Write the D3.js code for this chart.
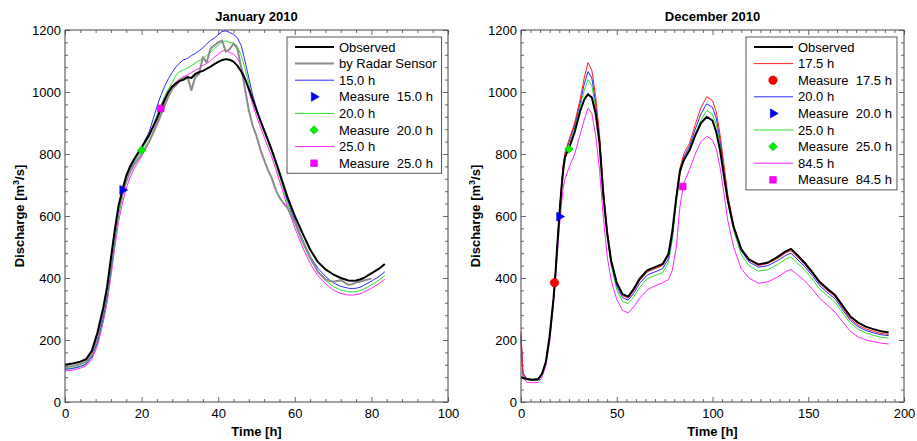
<!DOCTYPE html>
<html><head><meta charset="utf-8">
<script src="https://cdn.jsdelivr.net/npm/d3@7"></script>
<style>
body{margin:0;background:#fff;}
svg text{font-family:"Liberation Sans",Arial,Helvetica,sans-serif;fill:#000;}
</style></head><body>
<svg id="c" width="917" height="441"></svg>
<script>
// ---------------- January 2010 ----------------
const janTime = [0,2,4,5.5,7, 8.5,10,11,12,13, 14,15,16,17,18, 20,22,24,25,26, 27,28,29,30,31, 32,33,34,35,36, 37,38,39,40,41, 42,43,44,45,46, 47,48,49,50,51, 52,53,54,55,56, 57,58,60,62,64, 66,68,70,72,74, 75,76,77,78,80, 82,83.5];
const janObserved = [120,124,130,138,165, 225,305,372,465,555, 635,685,730,760,782, 822,862,915,945,975, 1000,1018,1028,1036,1040, 1048,1045,1058,1064,1068, 1075,1082,1090,1097,1103, 1106,1104,1098,1085,1066, 1042,1010,976,942,908, 876,845,812,776,740, 702,664,600,545,492, 452,428,412,400,392, 391,392,395,400,415, 430,445];
const janRadar = [112,116,122,130,152, 210,292,358,450,542, 620,670,712,742,765, 800,840,895,925,955, 985,1010,1022,1040,1046, 1048,1006,1048,1058,1112, 1095,1140,1150,1160,1166, 1130,1138,1156,1140,1080, 1010,940,892,858,815, 780,748,722,685,660, 642,628,580,520,468, 420,395,388,393,378, 380,386,388,392,398, null,null];
const jan15 = [105,108,114,122,145, 195,275,340,430,525, 618,682,722,752,778, 822,872,952,988,1018, 1043,1063,1082,1094,1104, 1108,1118,1124,1133,1143, 1155,1166,1174,1185,1195, 1197,1192,1186,1175,1150, 1100,1045,990,948,910, 878,847,815,778,738, 698,655,586,525,470, 432,405,385,373,367, 366,367,370,376,390, 405,420];
const jan20 = [108,110,116,124,146, 192,270,333,420,515, 600,662,710,745,772, 812,855,925,958,985, 1010,1030,1055,1066,1071, 1077,1085,1094,1101,1108, 1118,1128,1140,1150,1162, 1165,1160,1158,1148,1118, 1075,1025,978,938,902, 870,838,805,768,728, 688,645,576,514,460, 421,393,373,361,356, 355,356,359,364,378, 393,408];
const jan25 = [100,103,109,117,138, 182,258,320,405,498, 582,642,690,725,752, 792,838,905,942,968, 992,1012,1033,1042,1050, 1055,1062,1070,1076,1085, 1092,1101,1112,1122,1132, 1135,1128,1122,1110,1082, 1045,1002,960,922,888, 855,822,790,752,713, 674,632,562,500,447, 408,382,361,350,345, 345,346,349,354,367, 382,396];
const janMeasureTime = [15, 20, 25];
const janMeasureQ = [684, 812, 947];
const janXTicks = [0,20,40,60,80,100];

// ---------------- December 2010 ----------------
const decTime = [0,1,3,6,9, 11,13,15,17,18, 19,20,21,22,23, 25,28,31,33,35, 37,39,41,43,45, 47,50,53,56,59, 62,66,70,74,77, 79,81,83,85,88, 91,94,97,100,102, 104,106,108,111,115, 119,124,129,134,138, 141,144,148,152,156, 160,164,168,172,176, 180,184,188,192];
const decObserved = [80,78,74,72,74, 92,130,215,335,415, 510,598,680,745,790, 818,870,940,975,993, 982,930,835,665,545, 458,385,348,340,366, 398,425,435,445,478, 550,655,745,780,812, 860,900,920,908,870, 810,728,650,565,493, 460,444,450,468,485, 494,476,450,420,387, 365,345,310,276,256, 243,235,228,224];
const dec175 = [225,95,75,72,72, 90,128,210,335,420, 515,605,690,765,805, 845,900,980,1045,1095, 1070,985,865,690,555, 460,382,343,335,360, 392,420,430,440,472, 545,660,755,800,835, 895,950,985,972,935, 860,765,668,572,495, 458,440,447,463,480, 488,470,445,415,382, 360,340,303,268,248, 236,228,221,218];
const dec20 = [215,92,74,71,71, 89,127,210,333,415, 512,600,688,760,800, 838,893,968,1025,1066, 1045,965,850,680,545, 452,373,336,329,352, 383,410,420,430,462, 535,650,745,790,825, 880,930,962,950,915, 845,752,658,565,488, 452,435,440,456,472, 480,462,438,408,375, 353,333,297,263,243, 231,223,217,214];
const dec25 = [205,88,72,69,69, 87,125,205,328,410, 505,595,680,752,793, 820,883,955,1005,1040, 1020,948,838,670,535, 442,362,325,317,340, 370,398,408,418,450, 522,638,735,780,815, 865,910,940,928,895, 828,738,645,553,476, 440,422,427,443,460, 468,450,427,397,364, 343,322,287,254,235, 223,215,209,206];
const dec845 = [195,80,64,62,63, 80,118,195,318,395, 480,560,630,690,720, 755,800,865,910,948, 930,860,750,595,470, 395,330,296,287,308, 335,362,375,385,395, 425,495,630,705,750, 800,840,857,845,815, 755,672,585,500,430, 400,383,388,403,420, 428,412,392,365,334, 312,290,258,228,210, 200,195,190,187];
const decMeasureTime = [17.5, 20, 25, 84.5];
const decMeasureQ = [385, 598, 816, 695];
const decXTicks = [0,50,100,150,200];

const yTicks = [0,200,400,600,800,1000,1200];

// ---------------- drawing ----------------
const svg = d3.select("#c");
const FONT = "'Liberation Sans', Arial, Helvetica, sans-serif";
const C = {black:"#000000", gray:"#8c8c8c", blue:"#2a2aff", green:"#2ee02e", magenta:"#ff22ff", red:"#ff2020"};
const M = {blue:"#0000ff", green:"#00f000", magenta:"#ff00ff", red:"#ff0000"};

function markerPath(shape) {
  if (shape === "tri") return d3.symbol(d3.symbolTriangle, 36)();
  if (shape === "diamond") return d3.symbol(d3.symbolSquare, 36)();
  if (shape === "square") return d3.symbol(d3.symbolSquare, 44)();
  return d3.symbol(d3.symbolCircle, 56)();
}
function markerRot(shape) {
  if (shape === "tri") return 90;
  if (shape === "diamond") return 45;
  return 0;
}
function drawMarker(g, shape, color, x, y) {
  g.append("path").attr("d", markerPath(shape))
    .attr("transform", `translate(${x},${y}) rotate(${markerRot(shape)})`)
    .attr("fill", color).attr("stroke", d3.color(color).darker(0.6)).attr("stroke-width", 0.6);
}

function panel(o) {
  const W = o.right - o.left, H = o.bottom - o.top;
  const g = svg.append("g").attr("transform", `translate(${o.left},${o.top})`);
  const x = d3.scaleLinear().domain(o.xDomain).range([0, W]);
  const y = d3.scaleLinear().domain([0, 1200]).range([H, 0]);
  const xMinor = d3.range(o.xDomain[0], o.xDomain[1] + 0.001, o.xMinorStep).filter(v => !o.xTicks.includes(v));
  const yMinor = d3.range(0, 1200.001, 40).filter(v => !yTicks.includes(v));

  const styleAxis = sel => {
    sel.select(".domain").remove();
    sel.selectAll("line").attr("stroke", "#444").attr("stroke-width", 0.8);
    sel.selectAll("text").attr("font-family", FONT).attr("font-size", 13).attr("fill", "#000");
  };
  g.append("g").attr("transform", `translate(0,${H})`)
    .call(d3.axisBottom(x).tickValues(o.xTicks).tickSize(-5).tickPadding(7).tickFormat(d3.format("d"))).call(styleAxis);
  g.append("g")
    .call(d3.axisLeft(y).tickValues(yTicks).tickSize(-5).tickPadding(4).tickFormat(d3.format("d"))).call(styleAxis);
  g.append("g").call(d3.axisTop(x).tickValues(o.xTicks).tickSize(-5).tickFormat("")).call(styleAxis);
  g.append("g").attr("transform", `translate(${W},0)`)
    .call(d3.axisRight(y).tickValues(yTicks).tickSize(-5).tickFormat("")).call(styleAxis);
  g.append("g").attr("transform", `translate(0,${H})`).call(d3.axisBottom(x).tickValues(xMinor).tickSize(-3).tickFormat("")).call(styleAxis);
  g.append("g").call(d3.axisTop(x).tickValues(xMinor).tickSize(-3).tickFormat("")).call(styleAxis);
  g.append("g").call(d3.axisLeft(y).tickValues(yMinor).tickSize(-3).tickFormat("")).call(styleAxis);
  g.append("g").attr("transform", `translate(${W},0)`).call(d3.axisRight(y).tickValues(yMinor).tickSize(-3).tickFormat("")).call(styleAxis);

  const line = vals => d3.line().defined((d, i) => vals[i] != null)
      .x((d, i) => x(o.time[i])).y((d, i) => y(vals[i]))(o.time);
  o.series.slice().reverse().forEach(s => {
    g.append("path").attr("d", line(s.values)).attr("fill", "none")
      .attr("stroke", s.color).attr("stroke-width", s.width).attr("stroke-linejoin", "round");
  });
  o.measures.forEach(m => drawMarker(g, m.shape, m.color, x(m.t), y(m.q)));

  g.append("rect").attr("x", 0).attr("y", 0).attr("width", W).attr("height", H)
    .attr("fill", "none").attr("stroke", "#444").attr("stroke-width", 1);

  svg.append("text").attr("x", o.left + W / 2).attr("y", 21).attr("text-anchor", "middle")
    .attr("font-weight", "bold").attr("font-size", 13).attr("font-family", FONT).text(o.title);
  svg.append("text").attr("x", o.left + W / 2).attr("y", 436).attr("text-anchor", "middle")
    .attr("font-weight", "bold").attr("font-size", 13).attr("font-family", FONT).text("Time [h]");
  const yl = svg.append("text").attr("transform", `translate(${o.ylabelX},${o.top + H / 2}) rotate(-90)`)
    .attr("text-anchor", "middle").attr("font-weight", "bold").attr("font-size", 13).attr("font-family", FONT);
  yl.append("tspan").text("Discharge [m");
  yl.append("tspan").attr("dy", -5).attr("font-size", 9).text("3");
  yl.append("tspan").attr("dy", 5).text("/s]");

  const lg = g.append("g");
  const rowH = 16.6, top0 = 7;
  const bg = lg.append("rect");
  let maxW = 0;
  const lx = o.legendLeft - o.left;
  o.legend.forEach((e, i) => {
    const cy = top0 + 10 + i * rowH;
    if (e.type === "line") {
      lg.append("line").attr("x1", lx + 8).attr("x2", lx + 47).attr("y1", cy).attr("y2", cy)
        .attr("stroke", e.color).attr("stroke-width", e.width);
    } else {
      drawMarker(lg, e.shape, e.color, lx + 27, cy);
    }
    const t = lg.append("text").attr("x", lx + 52).attr("y", cy + 4.6).attr("font-size", 13)
      .attr("font-family", FONT).attr("xml:space", "preserve").style("white-space", "pre").text(e.label);
    maxW = Math.max(maxW, t.node().getComputedTextLength());
  });
  bg.attr("x", lx).attr("y", top0).attr("width", 52 + maxW + 5)
    .attr("height", o.legend.length * rowH + 3.5)
    .attr("fill", "#fff").attr("stroke", "#555").attr("stroke-width", 1);
}

panel({
  left: 65, right: 448, top: 30, bottom: 402,
  title: "January 2010", xDomain: [0, 100], xTicks: janXTicks, xMinorStep: 4,
  ylabelX: 23.5, legendLeft: 287,
  time: janTime,
  series: [
    {values: janObserved, color: C.black, width: 2},
    {values: janRadar, color: C.gray, width: 2},
    {values: jan15, color: C.blue, width: 1},
    {values: jan20, color: C.green, width: 1},
    {values: jan25, color: C.magenta, width: 1}
  ],
  measures: [
    {t: janMeasureTime[0], q: janMeasureQ[0], shape: "tri", color: M.blue},
    {t: janMeasureTime[1], q: janMeasureQ[1], shape: "diamond", color: M.green},
    {t: janMeasureTime[2], q: janMeasureQ[2], shape: "square", color: M.magenta}
  ],
  legend: [
    {type: "line", label: "Observed", color: C.black, width: 2},
    {type: "line", label: "by Radar Sensor", color: C.gray, width: 2},
    {type: "line", label: "15.0 h", color: C.blue, width: 1},
    {type: "marker", label: "Measure  15.0 h", shape: "tri", color: M.blue},
    {type: "line", label: "20.0 h", color: C.green, width: 1},
    {type: "marker", label: "Measure  20.0 h", shape: "diamond", color: M.green},
    {type: "line", label: "25.0 h", color: C.magenta, width: 1},
    {type: "marker", label: "Measure  25.0 h", shape: "square", color: M.magenta}
  ]
});

panel({
  left: 521, right: 904, top: 30, bottom: 402,
  title: "December 2010", xDomain: [0, 200], xTicks: decXTicks, xMinorStep: 5,
  ylabelX: 479.5, legendLeft: 746,
  time: decTime,
  series: [
    {values: decObserved, color: C.black, width: 2},
    {values: dec175, color: C.red, width: 1},
    {values: dec20, color: C.blue, width: 1},
    {values: dec25, color: C.green, width: 1},
    {values: dec845, color: C.magenta, width: 1}
  ],
  measures: [
    {t: decMeasureTime[0], q: decMeasureQ[0], shape: "circle", color: M.red},
    {t: decMeasureTime[1], q: decMeasureQ[1], shape: "tri", color: M.blue},
    {t: decMeasureTime[2], q: decMeasureQ[2], shape: "diamond", color: M.green},
    {t: decMeasureTime[3], q: decMeasureQ[3], shape: "square", color: M.magenta}
  ],
  legend: [
    {type: "line", label: "Observed", color: C.black, width: 2},
    {type: "line", label: "17.5 h", color: C.red, width: 1},
    {type: "marker", label: "Measure  17.5 h", shape: "circle", color: M.red},
    {type: "line", label: "20.0 h", color: C.blue, width: 1},
    {type: "marker", label: "Measure  20.0 h", shape: "tri", color: M.blue},
    {type: "line", label: "25.0 h", color: C.green, width: 1},
    {type: "marker", label: "Measure  25.0 h", shape: "diamond", color: M.green},
    {type: "line", label: "84.5 h", color: C.magenta, width: 1},
    {type: "marker", label: "Measure  84.5 h", shape: "square", color: M.magenta}
  ]
});
</script>
</body></html>
